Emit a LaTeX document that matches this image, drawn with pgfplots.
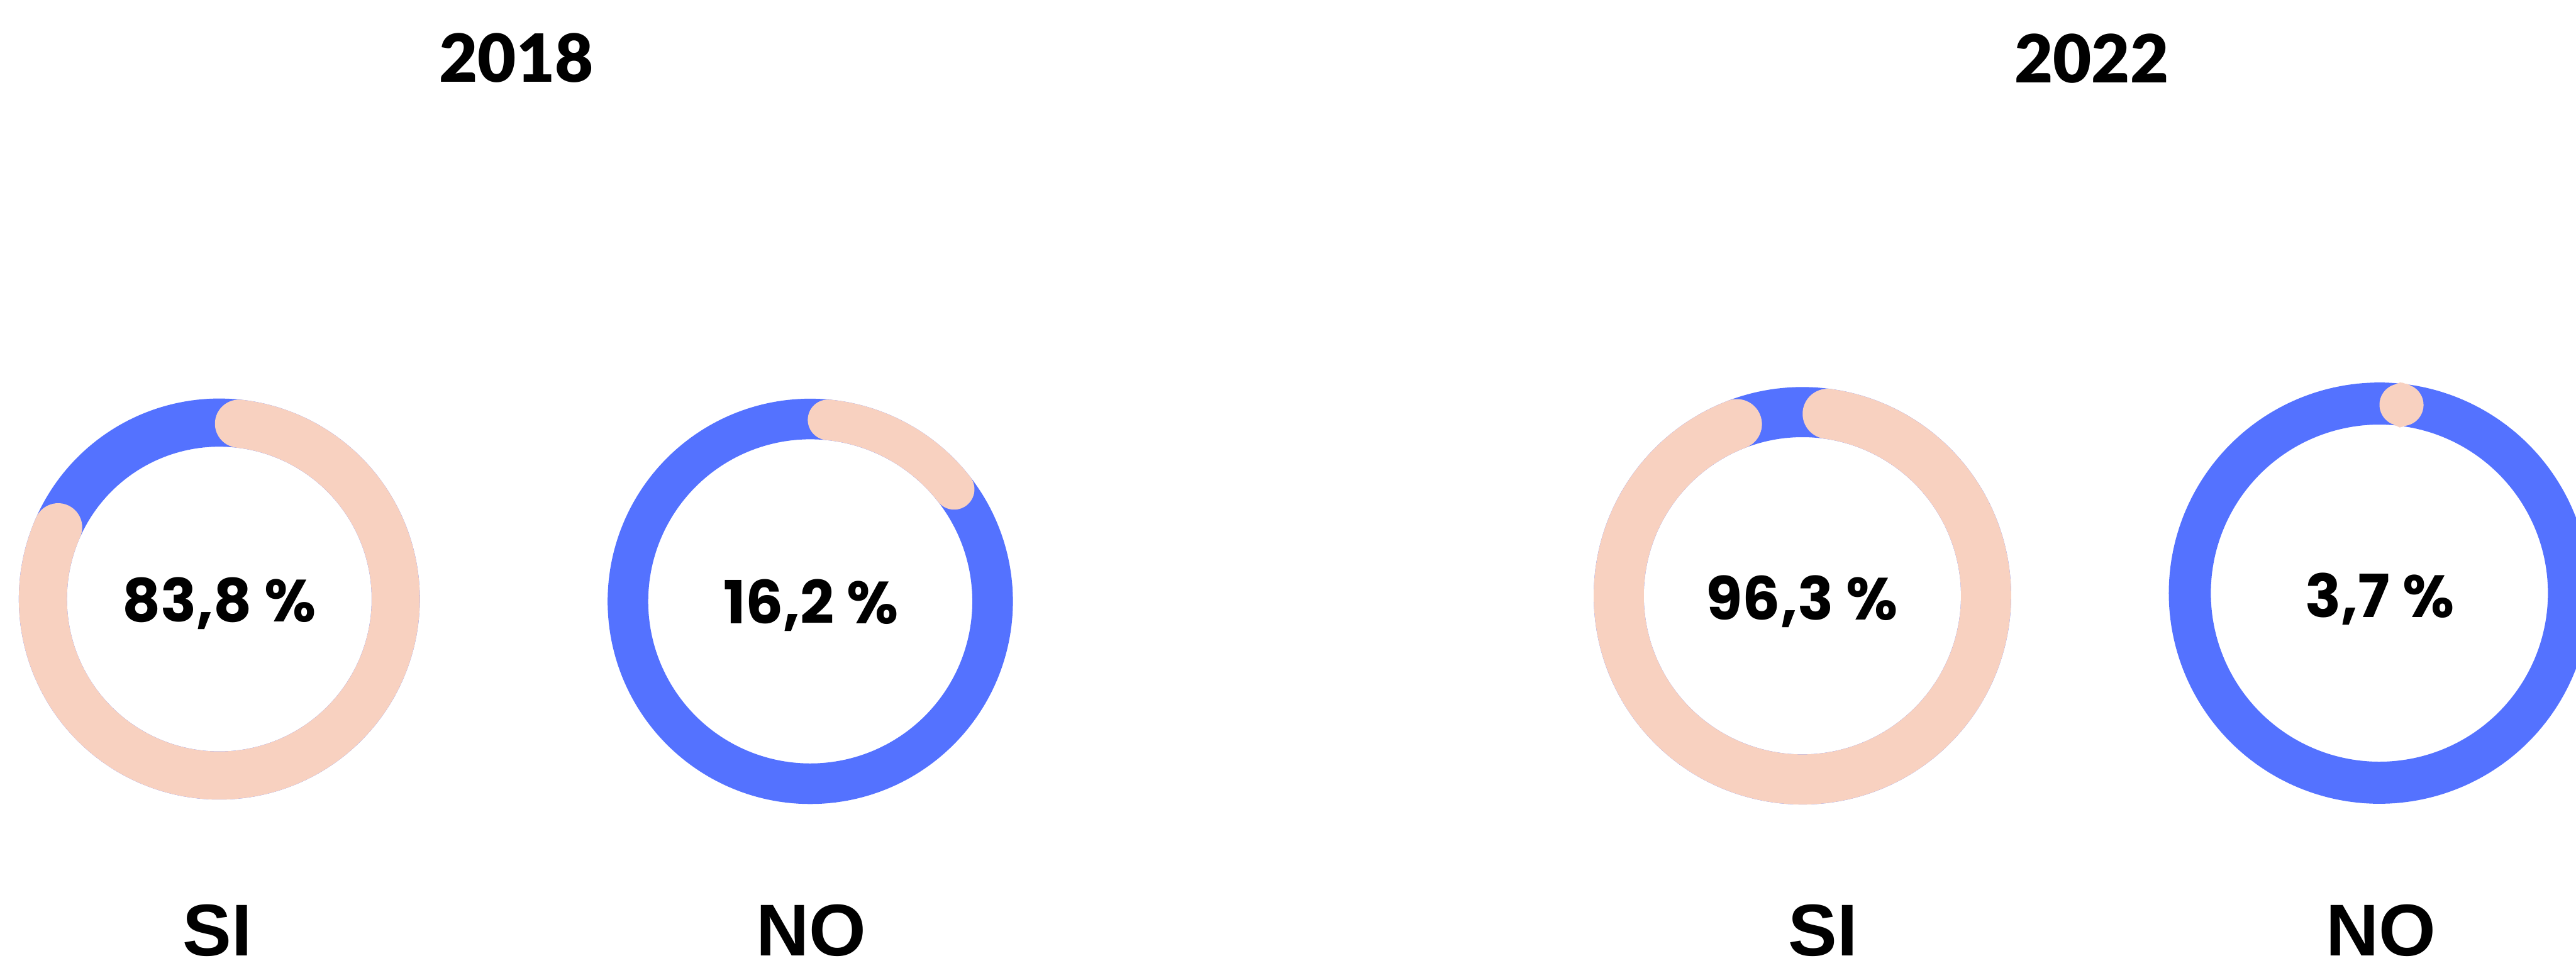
\documentclass[border=0pt]{standalone}
\usepackage{fontspec}
\usepackage{pgfplots}
\pgfplotsset{compat=1.18}
\newfontfamily\numfont{Lato Black}[Numbers=Lining]
\newfontfamily\pctfont{Poppins}
\newfontfamily\labfont{Liberation Sans}[UprightFont=*, BoldFont=* Bold]
\definecolor{trackblue}{HTML}{5472FF}
\definecolor{valpink}{HTML}{F8D1C0}

% donut geometry (px units of a 1568 x 589 frame, y downwards)
% centre x, centre y, mid radius, ring width (mm), arc start / end angle (deg)
\def\ring#1#2#3#4{%
  \addplot[trackblue, line width=#4, line cap=round, domain=-10:370, samples=255, variable=\t, no markers]
    ({#1+#3*cos(t)},{#2-#3*sin(t)});}
\def\arcv#1#2#3#4#5#6{%
  \addplot[valpink, line width=#4, line cap=round, domain=#5:#6, samples=181, variable=\t, no markers]
    ({#1+#3*cos(t)},{#2-#3*sin(t)});}

\begin{document}
\begin{tikzpicture}
\begin{axis}[
  at={(0,0)}, anchor=south west,
  scale only axis, width=15.68cm, height=5.89cm,
  xmin=0, xmax=1568, ymin=0, ymax=589, y dir=reverse,
  hide axis, clip=true,
]
% 2018 SI : 83,8 %
\ring{133.5}{364.6}{107.4}{2.93mm}
\arcv{133.5}{364.6}{107.4}{2.93mm}{-204.0}{83.6}
% 2018 NO : 16,2 %
\ring{493.2}{366.0}{111.0}{2.47mm}
\arcv{493.2}{366.0}{111.0}{2.47mm}{37.9}{84.4}
% 2022 SI : 96,3 %
\ring{1097.1}{362.6}{111.8}{3.05mm}
\arcv{1097.1}{362.6}{111.8}{3.05mm}{-249.1}{82.1}
% 2022 NO : 3,7 %
\ring{1448.3}{361.0}{115.4}{2.56mm}
\arcv{1448.3}{361.0}{115.4}{2.56mm}{83.0}{83.6}

% titles
\node[anchor=base, font=\numfont\fontsize{11.5}{12}\selectfont] at (axis cs:314.3,50.1) {2018};
\node[anchor=base, font=\numfont\fontsize{11.5}{12}\selectfont] at (axis cs:1273.2,50.2) {2022};
% values
\node[anchor=base, font=\pctfont\bfseries\fontsize{10.3}{12}\selectfont] at (axis cs:133.5,378.4) {83,8 \%};
\node[anchor=base, font=\pctfont\bfseries\fontsize{10.3}{12}\selectfont] at (axis cs:493.7,379.5) {16,2 \%};
\node[anchor=base, font=\pctfont\bfseries\fontsize{10.3}{12}\selectfont] at (axis cs:1096.8,377.1) {96,3 \%};
\node[anchor=base, font=\pctfont\bfseries\fontsize{10.3}{12}\selectfont] at (axis cs:1448.5,375.7) {3,7 \%};
% categories
\node[anchor=base, font=\labfont\bfseries\fontsize{12.7}{14}\selectfont] at (axis cs:132.3,581.5) {SI};
\node[anchor=base, font=\labfont\bfseries\fontsize{12.7}{14}\selectfont] at (axis cs:493.8,581.5) {NO};
\node[anchor=base, font=\labfont\bfseries\fontsize{12.7}{14}\selectfont] at (axis cs:1109.5,581.5) {SI};
\node[anchor=base, font=\labfont\bfseries\fontsize{12.7}{14}\selectfont] at (axis cs:1449.1,581.5) {NO};
\end{axis}
\pgfresetboundingbox
\path (0,0) rectangle (15.68cm,5.89cm);
\end{tikzpicture}
\end{document}
